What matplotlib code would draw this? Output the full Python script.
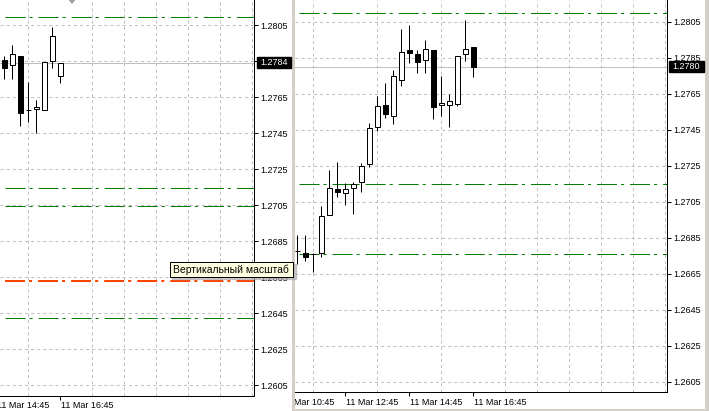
import numpy as np
import pandas as pd
import matplotlib
matplotlib.use("Agg")
import matplotlib.pyplot as plt
import matplotlib.transforms as mtransforms
from matplotlib.patches import Rectangle, Polygon

plt.rcParams['font.family'] = ['Liberation Sans', 'DejaVu Sans']
plt.rcParams['lines.scale_dashes'] = False

# --- data (M15 bars, 11 Mar) ---
left_first, left_last = '15:00', '16:45'
left_open  = [1.27856, 1.27828, 1.27878, 1.27578, 1.27583, 1.27578, 1.27850, 1.27767]
left_high  = [1.27878, 1.27939, 1.27878, 1.27733, 1.27633, 1.27844, 1.28039, 1.27839]
left_low   = [1.27750, 1.27750, 1.27489, 1.27511, 1.27450, 1.27578, 1.27811, 1.27728]
left_close = [1.27811, 1.27889, 1.27561, 1.27578, 1.27594, 1.27844, 1.27989, 1.27839]
left_green = [1.28094, 1.27144, 1.27044, 1.26422]
left_red = [1.26628]
left_ticks = ['14:45', '16:45']

right_first, right_last = '11:15', '16:45'
right_open  = [1.26778, 1.26767, 1.26761, 1.26767, 1.26978, 1.27122, 1.27100, 1.27128,
               1.27161, 1.27261, 1.27467, 1.27589, 1.27528, 1.27728, 1.27894, 1.27872,
               1.27839, 1.27894, 1.27589, 1.27589, 1.27594, 1.27872, 1.27911]
right_high  = [1.26867, 1.26867, 1.26767, 1.27028, 1.27228, 1.27272, 1.27156, 1.27161,
               1.27267, 1.27489, 1.27639, 1.27711, 1.27783, 1.28011, 1.28033, 1.27894,
               1.27950, 1.27894, 1.27750, 1.27650, 1.27861, 1.28061, 1.27911]
right_low   = [1.26706, 1.26722, 1.26661, 1.26744, 1.26978, 1.27078, 1.27033, 1.26983,
               1.27106, 1.27244, 1.27444, 1.27517, 1.27483, 1.27694, 1.27822, 1.27767,
               1.27767, 1.27511, 1.27528, 1.27467, 1.27583, 1.27833, 1.27744]
right_close = [1.26778, 1.26744, 1.26761, 1.26972, 1.27128, 1.27106, 1.27122, 1.27150,
               1.27250, 1.27461, 1.27583, 1.27539, 1.27750, 1.27883, 1.27878, 1.27828,
               1.27900, 1.27578, 1.27600, 1.27611, 1.27861, 1.27900, 1.27800]
right_green = [1.28100, 1.27150, 1.26761]
right_ticks = ['10:45', '12:45', '14:45', '16:45']

price_ticks = np.round(np.arange(1.2605, 1.2806, 0.002), 4)
tooltip = 'Вертикальный масштаб'

W, H = 709, 411
GRID = '#c0c0c0'
LW = 0.72   # one pixel
DASHDOT = (0, (14.4, 2.9, 2.2, 4.3))


def slot(t):
    h, m = t.split(':')
    return (int(h) * 60 + int(m)) / 15


def slots(first, last):
    idx = pd.date_range('2000-01-01 ' + first, '2000-01-01 ' + last, freq='15min')
    return ((idx.hour * 60 + idx.minute) / 15).to_numpy()


def rect(x0, y0, x1, y1):
    return [x0 / W, 1 - y1 / H, (x1 - x0) / W, (y1 - y0) / H]


fig = plt.figure(figsize=(W / 100, H / 100), dpi=100, facecolor='#d4d0c8')

# window backgrounds
wL = fig.add_axes(rect(0, 0, 292, 411), zorder=0)
wR = fig.add_axes(rect(295, 0, 705, 409), zorder=0)
for w in (wL, wR):
    w.set_facecolor('white')
    w.set_xticks([]); w.set_yticks([])
    for s in w.spines.values():
        s.set_visible(False)

aL = fig.add_axes(rect(0, 0, 254, 396), zorder=1)
aR = fig.add_axes(rect(295, 0, 667, 392), zorder=1)


def setup(ax, xlim, ylim, win, ticks, label_dy):
    ax.set_facecolor('none')
    for s in ['top', 'left']:
        ax.spines[s].set_visible(False)
    for s in ['right', 'bottom']:
        ax.spines[s].set_linewidth(LW)
    ax.yaxis.tick_right()
    ax.set_yticks(price_ticks)
    ax.set_yticklabels([f'{p:.4f}' for p in price_ticks])
    ax.tick_params(axis='y', length=3, width=LW, pad=1.5, labelsize=6.5)
    ax.set_xticks([slot(t) for t in ticks])
    ax.set_xticklabels([])
    hours = np.arange(0, 24) * 4 + 3   # every hour at :45
    ax.set_xticks(hours, minor=True)
    ax.tick_params(axis='x', which='major', length=3, width=LW, labelbottom=False)
    ax.tick_params(axis='x', which='minor', length=0)
    ax.grid(which='minor', axis='x', color=GRID, lw=LW, linestyle=(0, (2.2, 2.2)))
    ax.grid(which='major', axis='y', color=GRID, lw=LW, linestyle=(0, (2.2, 2.2)))
    ax.set_axisbelow(True)
    ax.set_xlim(*xlim)
    ax.set_ylim(*ylim)
    base = mtransforms.blended_transform_factory(ax.transData, ax.transAxes)
    tr = mtransforms.offset_copy(base, fig=fig, x=1, y=-label_dy, units='dots')
    for t in ticks:
        win.text(slot(t), 0, '11 Mar ' + t, transform=tr, ha='left', va='center',
                 fontsize=6.5, clip_on=True)


def candles(ax, x, o, h, l, c):
    o, h, l, c = map(np.asarray, (o, h, l, c))
    ax.vlines(x, l, h, color='black', lw=LW, zorder=3)
    up = c >= o
    ax.bar(x, np.abs(c - o), bottom=np.minimum(o, c), width=0.6,
           color=np.where(up, 'white', 'black'), edgecolor='black', lw=LW, zorder=4)


last = slot('16:45')
setup(aL, (last - 60.3 / 8, last + (254 - 60.3) / 8),
      (1.2805 - 371 / 18000, 1.2805 + 25 / 18000), wL, left_ticks, 9)
setup(aR, (last - (473.3 - 295) / 8, last + (667 - 473.3) / 8),
      (1.2805 - 370 / 18000, 1.2805 + 22 / 18000), wR, right_ticks, 10)

for p in left_green:
    aL.axhline(p, xmin=0.02, color='#008000', lw=LW, linestyle=DASHDOT, zorder=2)
for p in left_red:
    aL.axhline(p, xmin=0.02, color='#ff4500', lw=1.44, linestyle=DASHDOT, zorder=2)
for p in right_green:
    aR.axhline(p, xmin=0.011, color='#008000', lw=LW, linestyle=DASHDOT, zorder=2)

aL.axhline(left_close[-1], color=GRID, lw=LW, zorder=2)
aR.axhline(right_close[-1], color=GRID, lw=LW, zorder=2)

candles(aL, slots(left_first, left_last), left_open, left_high, left_low, left_close)
candles(aR, slots(right_first, right_last), right_open, right_high, right_low, right_close)

# overlay in pixel coordinates
ov = fig.add_axes([0, 0, 1, 1], zorder=10)
ov.set_xlim(0, W)
ov.set_ylim(H, 0)
ov.axis('off')
ov.patch.set_alpha(0)

for ax, x0, x1, price in [(aL, 257, 291, left_close[-1]), (aR, 669, 704, right_close[-1])]:
    ypx = H - ax.transData.transform((last, price))[1]
    ov.add_patch(Rectangle((x0, ypx - 5.5), x1 - x0, 11, color='black'))
    ov.text((x0 + x1) / 2, ypx, f'{price:.4f}', color='white', ha='center', va='center',
            fontsize=6.5)

# chart shift marker
ov.add_patch(Polygon([(69.5, 0), (74.5, 0), (72, 3)], closed=True, color='#a0a0a0'))

# tooltip
ov.add_patch(Rectangle((172, 264), 124, 15, color='#a8a8a8', alpha=0.6))
ov.add_patch(Rectangle((170, 262), 123, 15, facecolor='#ffffe1', edgecolor='black', lw=LW))
ov.text(173, 269.8, tooltip, ha='left', va='center', fontsize=7.5)

fig.savefig('out.png', dpi=100, facecolor=fig.get_facecolor())
